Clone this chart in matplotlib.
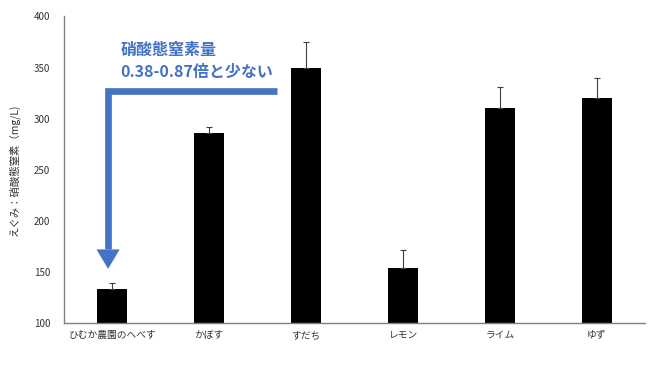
import matplotlib
matplotlib.use('Agg')
import matplotlib.pyplot as plt
from matplotlib.patches import Polygon

plt.rcParams['font.family'] = ['Noto Sans CJK JP', 'DejaVu Sans']

# data
categories = ['ひむか農園のへべす', 'かぼす', 'すだち', 'レモン', 'ライム', 'ゆず']
values = [133, 286, 350, 154, 310, 320]
errors = [6, 6, 25, 17, 21, 20]

blue = '#4472C4'

fig = plt.figure(figsize=(6.5, 3.66), dpi=100)
ax = fig.add_axes([0.0985, 0.1175, 0.894, 0.8375])

x = list(range(len(categories)))
ax.bar(x, [v - 100 for v in values], bottom=100, width=0.31, color='black')
ax.errorbar(x, values, yerr=[[0] * len(errors), errors], fmt='none',
            ecolor='#404040', elinewidth=0.8, capsize=2.5, capthick=0.8)

ax.set_xlim(-0.5, len(categories) - 0.5)
ax.set_ylim(100, 400)
ax.set_yticks([100, 150, 200, 250, 300, 350, 400])
ax.set_xticks(x)
ax.set_xticklabels(categories, fontsize=7, color='#333333')
for lbl in ax.get_xticklabels():
    lbl.set_verticalalignment('baseline')
ax.tick_params(axis='both', length=0, labelsize=7, colors='#333333')
ax.tick_params(axis='x', pad=11)
ax.tick_params(axis='y', pad=10)
for s in ['top', 'right']:
    ax.spines[s].set_visible(False)
for s in ['left', 'bottom']:
    ax.spines[s].set_color('#808080')
    ax.spines[s].set_linewidth(1.0)

ax.set_ylabel('えぐみ：硝酸態窒素（mg/L)', fontsize=7.5, color='#333333', labelpad=10)

# callout arrow
ax.plot([1.70, -0.045, -0.045], [327, 327, 172], color=blue, lw=4.8,
        solid_joinstyle='miter', solid_capstyle='butt')
ax.add_patch(Polygon([[-0.165, 172], [0.075, 172], [-0.045, 153]],
                     closed=True, color=blue, lw=0))

ax.text(0.08, 367, '硝酸態窒素量', fontsize=11.5, fontweight='bold',
        color=blue, va='center', ha='left')
ax.text(0.08, 346, '0.38-0.87倍と少ない', fontsize=11.5, fontweight='bold',
        color=blue, va='center', ha='left')

fig.savefig('out.png', dpi=100)
